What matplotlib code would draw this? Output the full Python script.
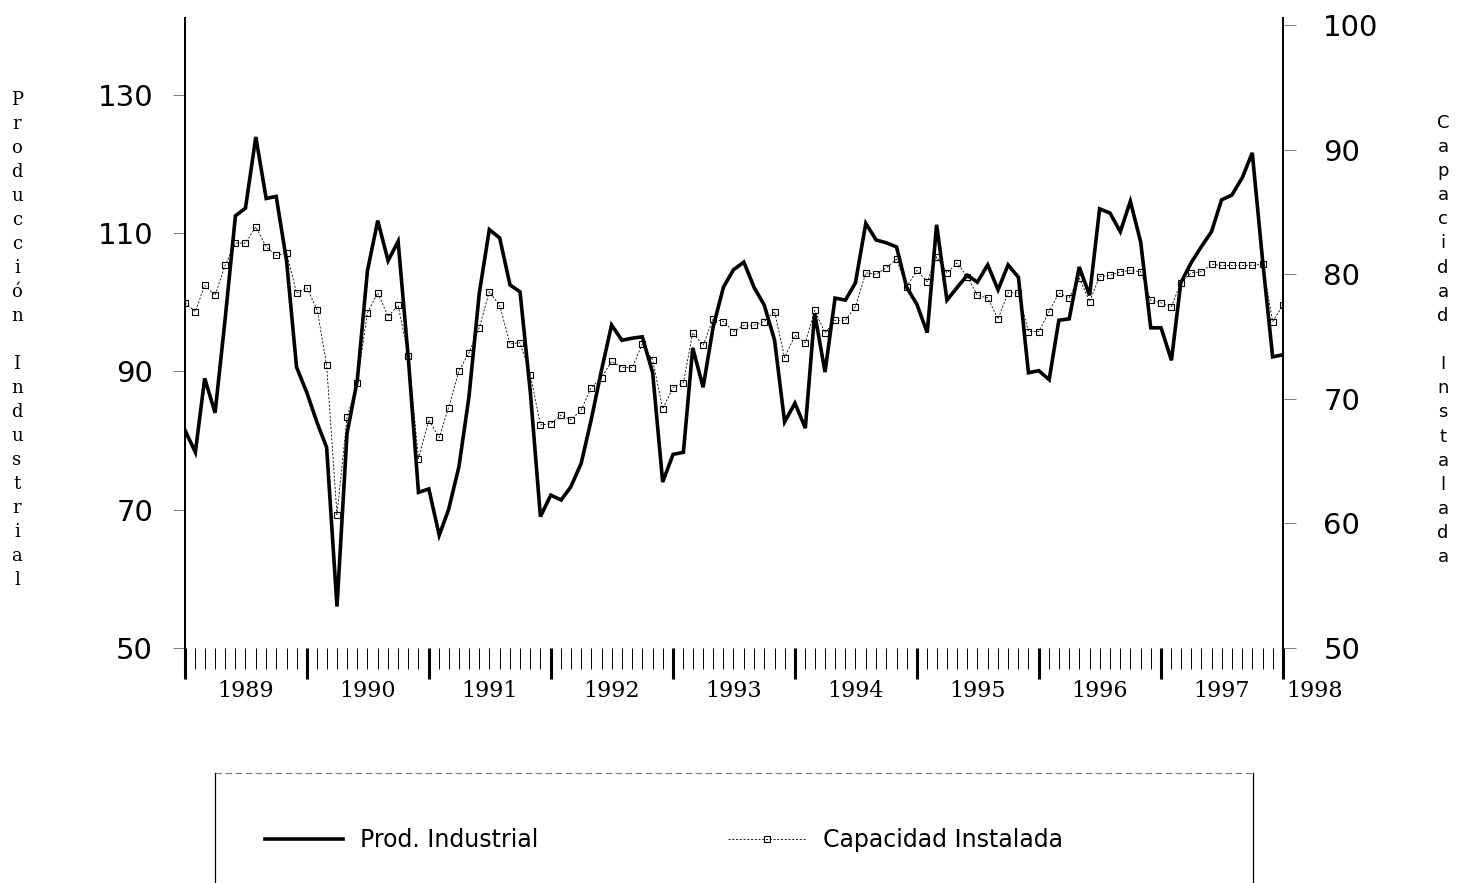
import matplotlib
matplotlib.use("Agg")
import matplotlib.pyplot as plt
import matplotlib.dates as mdates
from matplotlib.lines import Line2D
import numpy as np
import pandas as pd

# monthly series, Jan 1989 .. Jan 1998
months = pd.date_range("1989-01-01", periods=109, freq="MS")

prod_industrial = [
    81.5, 78.3, 89.0, 84.0, 97.5, 112.5, 113.6, 123.9, 115.0, 115.3, 106.0, 90.6,
    86.9, 82.5, 79.0, 56.0, 81.0, 88.8, 104.5, 111.8, 106.0, 108.8, 91.6, 72.5,
    73.0, 66.3, 70.0, 76.2, 86.3, 101.3, 110.5, 109.3, 102.5, 101.5, 86.9, 69.0,
    72.1, 71.4, 73.3, 76.7, 83.0, 90.2, 96.7, 94.5, 94.8, 95.0, 89.8, 74.0,
    78.0, 78.3, 93.4, 87.7, 96.4, 102.2, 104.7, 105.8, 102.1, 99.6, 94.5, 82.7,
    85.4, 81.8, 98.4, 89.9, 100.6, 100.3, 102.8, 111.4, 109.0, 108.6, 108.0, 102.2,
    99.7, 95.6, 111.2, 100.3, 102.1, 103.9, 102.9, 105.4, 101.8, 105.4, 103.6, 89.8,
    90.1, 88.8, 97.4, 97.6, 105.1, 101.0, 113.5, 112.9, 110.2, 114.6, 108.7, 96.3,
    96.3, 91.6, 102.8, 105.7, 108.0, 110.2, 114.8, 115.5, 118.0, 121.6, 106.0, 92.1,
    92.4,
]

capacidad_instalada = [
    77.7, 77.0, 79.1, 78.3, 80.7, 82.5, 82.5, 83.8, 82.2, 81.5, 81.7, 78.5,
    78.9, 77.1, 72.7, 60.7, 68.5, 71.3, 76.9, 78.5, 76.6, 77.5, 73.4, 65.2,
    68.3, 66.9, 69.3, 72.2, 73.7, 75.7, 78.6, 77.5, 74.4, 74.5, 71.9, 67.9,
    68.0, 68.7, 68.3, 69.1, 70.9, 71.7, 73.0, 72.5, 72.5, 74.4, 73.1, 69.2,
    70.9, 71.3, 75.3, 74.3, 76.4, 76.2, 75.4, 75.9, 75.9, 76.2, 77.0, 73.3,
    75.1, 74.5, 77.1, 75.3, 76.3, 76.3, 77.4, 80.1, 80.0, 80.5, 81.2, 79.0,
    80.3, 79.4, 81.4, 80.1, 80.9, 79.8, 78.3, 78.1, 76.4, 78.5, 78.5, 75.4,
    75.4, 77.0, 78.5, 78.1, 79.7, 77.8, 79.8, 79.9, 80.2, 80.3, 80.2, 77.9,
    77.7, 77.4, 79.3, 80.1, 80.2, 80.8, 80.7, 80.7, 80.7, 80.7, 80.8, 76.2,
    77.5,
]

left_ticks = [50, 70, 90, 110, 130]
right_ticks = [50, 60, 70, 80, 90, 100]
year_labels = ["1989", "1990", "1991", "1992", "1993", "1994", "1995", "1996", "1997", "1998"]

W, H = 1462, 883
fig = plt.figure(figsize=(W / 100, H / 100), dpi=100)
ax = fig.add_axes([185 / W, 1 - 648 / H, (1283 - 185) / W, (648 - 18) / H])
ax2 = ax.twinx()

l1, = ax.plot(months, prod_industrial, color="black", lw=2.6, solid_joinstyle="miter")
l2, = ax2.plot(months, capacidad_instalada, color="black", lw=0.6, ls=(0, (2.5, 2)),
               marker="s", ms=4.5, mfc="none", mec="black", mew=0.8)

ax.set_xlim(pd.Timestamp("1989-01-01"), pd.Timestamp("1998-01-01"))
ax.set_ylim(50, 141.1)
ax2.set_ylim(50, 100.56)

for a in (ax, ax2):
    a.spines["top"].set_visible(False)
    a.spines["bottom"].set_visible(False)
    a.spines["left"].set_linewidth(1.3)
    a.spines["right"].set_linewidth(1.3)

ax.xaxis.set_major_locator(mdates.YearLocator())
ax.xaxis.set_minor_locator(mdates.MonthLocator())
ax.xaxis.set_major_formatter(plt.NullFormatter())
ax.tick_params(axis="x", which="major", length=22, width=2.2, direction="out")
ax.tick_params(axis="x", which="minor", length=15, width=0.7, direction="out")

ax.set_yticks(left_ticks)
ax2.set_yticks(right_ticks)
ax.tick_params(axis="y", length=9, width=0.6, color="#666666", pad=14, labelsize=21)
ax2.tick_params(axis="y", length=9, width=0.6, color="#666666", pad=20, labelsize=21)

# year labels centred in each year, last one squeezed past the axis end
label_pos = [pd.Timestamp(f"{y}-07-01") for y in range(1989, 1998)] + [pd.Timestamp("1998-04-05")]
for d, txt in zip(label_pos, year_labels):
    ax.text(d, -0.068, txt, transform=ax.get_xaxis_transform(), ha="center", va="center",
            fontsize=16, family="DejaVu Serif", clip_on=False)

# stacked axis titles
fig.text(17 / W, 1 - 340 / H, "\n".join("Producción Industrial"), ha="center", va="center",
         fontsize=13, family="DejaVu Serif", linespacing=1.43)
fig.text(1443 / W, 1 - 340 / H, "\n".join("Capacidad Instalada"), ha="center", va="center",
         fontsize=13, family="DejaVu Sans", linespacing=1.44)

# legend box (bottom edge falls off the page)
fig.add_artist(Line2D([215 / W, 1253 / W], [1 - 773 / H, 1 - 773 / H], color="#777777",
                      lw=0.8, ls=(0, (6, 3))))
fig.add_artist(Line2D([215 / W, 215 / W], [1 - 773 / H, 0], color="black", lw=0.9))
fig.add_artist(Line2D([1253 / W, 1253 / W], [1 - 773 / H, 0], color="black", lw=0.9))

fig.legend([l1, l2], ["Prod. Industrial", "Capacidad Instalada"], loc="center left",
           bbox_to_anchor=(253 / W, 1 - 840 / H), ncol=2, frameon=False, borderpad=0,
           fontsize=17, handlelength=3.3, handletextpad=0.75, columnspacing=8.0)

fig.savefig("out.png", dpi=100)
